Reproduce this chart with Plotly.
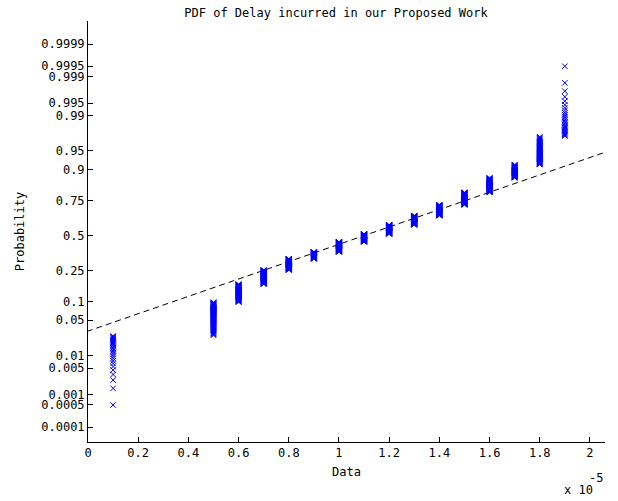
import numpy as np
import plotly.graph_objects as go
from statistics import NormalDist

# Delay values (units of 1e-5) and how many samples share each value
delay_values = [0.1, 0.5, 0.6, 0.7, 0.8, 0.9, 1.0, 1.1, 1.2, 1.3, 1.4, 1.5, 1.6, 1.7, 1.8, 1.9]
delay_counts = [26, 72, 75, 79, 74, 50, 76, 61, 70, 68, 74, 75, 69, 47, 57, 27]

prob_ticks = [0.0001, 0.0005, 0.001, 0.005, 0.01, 0.05, 0.1, 0.25, 0.5,
              0.75, 0.9, 0.95, 0.99, 0.995, 0.999, 0.9995, 0.9999]
prob_labels = ["0.0001", "0.0005", "0.001", "0.005", "0.01", "0.05", "0.1", "0.25", "0.5",
               "0.75", "0.9", "0.95", "0.99", "0.995", "0.999", "0.9995", "0.9999"]
x_ticks = [0, 0.2, 0.4, 0.6, 0.8, 1.0, 1.2, 1.4, 1.6, 1.8, 2.0]
x_labels = ["0", "0.2", "0.4", "0.6", "0.8", "1", "1.2", "1.4", "1.6", "1.8", "2"]

nd = NormalDist()

# normal probability plot (normplot-style)
x = np.sort(np.repeat(delay_values, delay_counts))
n = len(x)
p = (np.arange(1, n + 1) - 0.5) / n
z = np.array([nd.inv_cdf(v) for v in p])


def prctile(sorted_x, pct):
    pos = len(sorted_x) * pct / 100 + 0.5  # MATLAB prctile, 1-based
    lo = int(np.floor(pos))
    frac = pos - lo
    lo = min(max(lo, 1), len(sorted_x))
    hi = min(lo + 1, len(sorted_x))
    return sorted_x[lo - 1] + frac * (sorted_x[hi - 1] - sorted_x[lo - 1])


q1x, q3x = prctile(x, 25), prctile(x, 75)
q1y, q3y = nd.inv_cdf(0.25), nd.inv_cdf(0.75)
slope = (q3y - q1y) / (q3x - q1x)
cx, cy = (q1x + q3x) / 2, (q1y + q3y) / 2
dx = 0.1 * (x.max() - x.min())
lx = np.array([x.min() - dx, x.max() + dx])
ly = cy + slope * (lx - cx)

font = "DejaVu Sans Mono"

fig = go.Figure()
fig.add_trace(go.Scatter(x=lx, y=ly, mode="lines",
                         line=dict(color="black", width=1, dash="6px,4px"),
                         hoverinfo="skip"))
fig.add_trace(go.Scatter(x=x, y=z, mode="markers",
                         marker=dict(symbol="x-thin", size=5.5, color="rgb(0,0,255)",
                                     line=dict(color="rgb(0,0,255)", width=1)),
                         cliponaxis=False))

fig.update_layout(
    width=618, height=501,
    margin=dict(l=88, r=13, t=21, b=59),
    paper_bgcolor="white", plot_bgcolor="white",
    showlegend=False,
    font=dict(family=font, size=12, color="black"),
    title=dict(text="PDF of Delay incurred in our Proposed Work",
               x=0.5437, xanchor="center", y=0.975, yanchor="middle",
               font=dict(family=font, size=12, color="black")),
)
fig.update_xaxes(range=[0, 2.06], tickvals=x_ticks, ticktext=x_labels,
                 ticks="inside", ticklen=5, tickcolor="black",
                 showline=True, linecolor="black", linewidth=1,
                 showgrid=False, zeroline=False,
                 title=dict(text="Data", standoff=8, font=dict(family=font, size=12)))
fig.update_yaxes(range=[-4.01, 4.17], tickvals=[nd.inv_cdf(v) for v in prob_ticks],
                 ticktext=prob_labels,
                 ticks="inside", ticklen=5, tickcolor="black",
                 showline=True, linecolor="black", linewidth=1,
                 showgrid=False, zeroline=False,
                 title=dict(text="Probability", standoff=14, font=dict(family=font, size=12)))

fig.add_annotation(text="x 10", xref="paper", yref="paper", x=1.0, y=-0.114,
                   xanchor="right", yanchor="middle", showarrow=False,
                   xshift=-10, font=dict(family=font, size=12))
fig.add_annotation(text="-5", xref="paper", yref="paper", x=1.0, y=-0.0855,
                   xanchor="right", yanchor="middle", showarrow=False,
                   xshift=0, font=dict(family=font, size=12))

fig.write_html("out.html")
